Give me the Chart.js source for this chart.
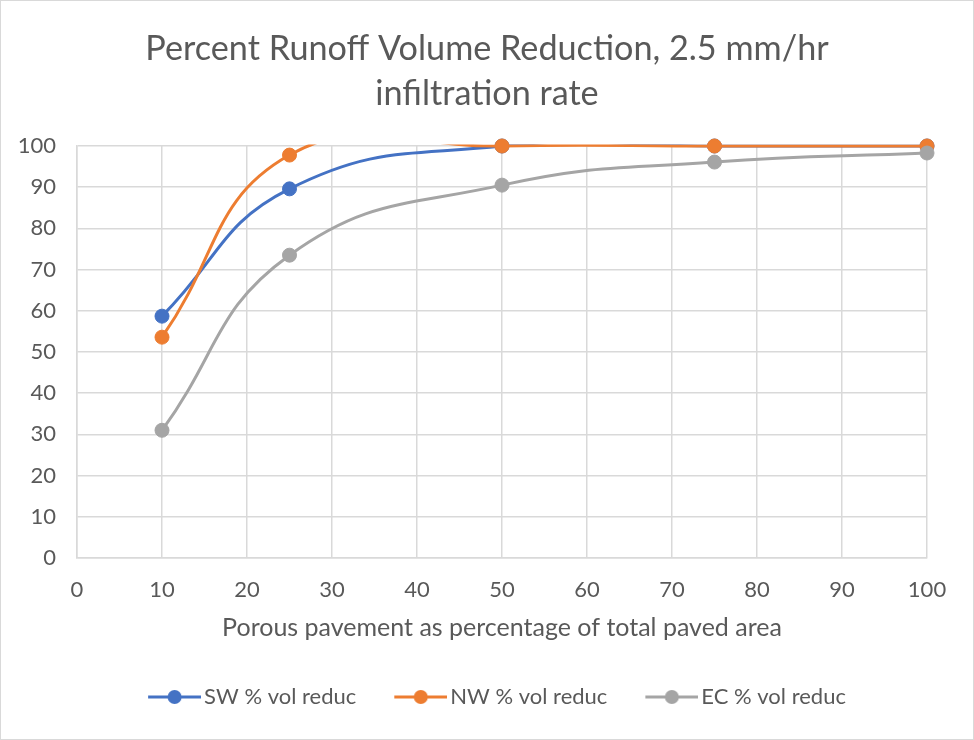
<!DOCTYPE html>
<html>
<head>
<meta charset="utf-8">
<script src="https://cdn.jsdelivr.net/npm/chart.js@4/dist/chart.umd.min.js"></script>
<style>
  html, body { margin: 0; padding: 0; background: #fff; }
  #wrap { position: absolute; left: 0; top: 0; width: 972px; height: 738px; border: 1px solid #d9d9d9; background: #fff; }
  canvas { display: block; }
</style>
</head>
<body>
<div id="wrap"><canvas id="c" width="972" height="738"></canvas></div>
<script>
// ---- data ----
const xValues = [10, 25, 50, 75, 100];
const swValues = [58.7, 89.6, 100, 100, 100];
const nwValues = [53.6, 97.8, 100, 100, 100];
const ecValues = [31.0, 73.5, 90.5, 96.1, 98.3];
const seriesNames = ['SW % vol reduc', 'NW % vol reduc', 'EC % vol reduc'];
const xTicks = [0, 10, 20, 30, 40, 50, 60, 70, 80, 90, 100];
const yTicks = [0, 10, 20, 30, 40, 50, 60, 70, 80, 90, 100];
const titleLines = ['Percent Runoff Volume Reduction, 2.5 mm/hr', 'infiltration rate'];
const xTitle = 'Porous pavement as percentage of total paved area';

const colors = ['#4472C4', '#ED7D31', '#A5A5A5'];
const FONT = 'Lato, "Open Sans", sans-serif';
const TXT = '#595959';

function toPts(ys) { return xValues.map((x, i) => ({ x: x, y: ys[i] })); }

// legend icon: line with a marker; blank area on the left shifts it inside the legend box
function legendIcon(color) {
  const cv = document.createElement('canvas');
  cv.width = 81; cv.height = 16;
  const g = cv.getContext('2d');
  g.strokeStyle = color; g.lineWidth = 3;
  g.beginPath(); g.moveTo(28, 8); g.lineTo(81, 8); g.stroke();
  g.fillStyle = color;
  g.beginPath(); g.arc(54.5, 8, 7, 0, Math.PI * 2); g.fill();
  return cv;
}
const icons = colors.map(legendIcon);

function lineDs(label, ys, color, order) {
  return {
    label: label, data: toPts(ys), borderColor: color, backgroundColor: color,
    borderWidth: 3, pointRadius: 0, pointHoverRadius: 0,
    showLine: true, tension: 0.45, capBezierPoints: false, fill: false, order: order,
    clip: { left: 0, right: 2, top: 1.5, bottom: 0 }
  };
}
function pointDs(label, ys, color, order) {
  return {
    label: label + ' markers', data: toPts(ys), borderColor: color, backgroundColor: color,
    pointRadius: 7, pointHoverRadius: 7, pointBorderWidth: 1,
    pointBackgroundColor: color, pointBorderColor: color,
    showLine: false, order: order, clip: false
  };
}

new Chart(document.getElementById('c'), {
  type: 'scatter',
  data: {
    datasets: [
      lineDs(seriesNames[0], swValues, colors[0], 5),
      lineDs(seriesNames[1], nwValues, colors[1], 3),
      lineDs(seriesNames[2], ecValues, colors[2], 1),
      pointDs(seriesNames[0], swValues, colors[0], 4),
      pointDs(seriesNames[1], nwValues, colors[1], 2),
      pointDs(seriesNames[2], ecValues, colors[2], 0)
    ]
  },
  options: {
    responsive: false,
    animation: false,
    layout: { padding: { left: 0, right: 0, top: 0, bottom: 21 } },
    plugins: {
      tooltip: { enabled: false },
      title: {
        display: true, text: titleLines, color: TXT,
        font: { family: FONT, size: 34.2, weight: 'normal', lineHeight: 45 / 34.2 },
        padding: { top: 25, bottom: 30 }
      },
      legend: {
        position: 'bottom',
        labels: {
          color: TXT, usePointStyle: true, pointStyleWidth: 65, padding: 18,
          font: { family: FONT, size: 22 },
          filter: (item) => item.datasetIndex < 3,
          sort: (a, b) => a.datasetIndex - b.datasetIndex,
          generateLabels: function (chart) {
            const items = Chart.defaults.plugins.legend.labels.generateLabels(chart);
            items.forEach(it => { it.pointStyle = icons[it.datasetIndex % 3]; });
            return items;
          }
        }
      }
    },
    scales: {
      x: {
        type: 'linear', min: 0, max: 100,
        afterBuildTicks: s => { s.ticks = xTicks.map(v => ({ value: v })); },
        afterFit: s => { s.height = 110; },
        grid: { color: '#d9d9d9', lineWidth: 1.5, drawTicks: false },
        border: { color: '#d9d9d9', width: 1.5 },
        ticks: { color: TXT, padding: 19, font: { family: FONT, size: 22 }, maxRotation: 0 },
        title: {
          display: true, text: xTitle, color: TXT,
          font: { family: FONT, size: 25, lineHeight: 1.0 },
          padding: { top: 0, bottom: 27.5 }
        }
      },
      y: {
        type: 'linear', min: 0, max: 100,
        afterBuildTicks: s => { s.ticks = yTicks.map(v => ({ value: v })); },
        afterFit: s => { s.width = 76; },
        grid: { color: '#d9d9d9', lineWidth: 1.5, drawTicks: false },
        border: { color: '#d9d9d9', width: 1.5 },
        ticks: { color: TXT, padding: 21, font: { family: FONT, size: 22 } }
      },
      yRightSpace: {
        type: 'linear', position: 'right', display: true, min: 0, max: 100,
        afterFit: s => { s.width = 46; },
        grid: { display: false, drawTicks: false },
        border: { display: false },
        ticks: { display: false }
      }
    }
  }
});
</script>
</body>
</html>
